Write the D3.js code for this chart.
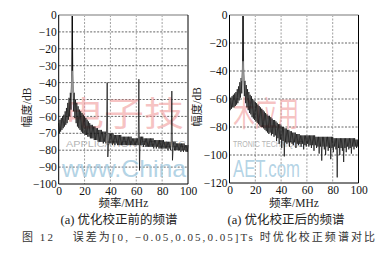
<!DOCTYPE html>
<html><head><meta charset="utf-8">
<script src="https://cdn.jsdelivr.net/npm/d3@7"></script>
<style>
body{margin:0;background:#fff;}
svg{display:block;}
</style></head>
<body>
<svg id="c" width="381" height="254"></svg>
<script>
// ---------- data ----------
const freqStep = 0.5; // MHz between samples
const xTicks = [0, 20, 40, 60, 80, 100];
const yTicksLeft = [0, -10, -20, -30, -40, -50, -60, -70, -80, -90, -100];
const yTicksRight = [0, -20, -40, -60, -80, -100, -120];

// before optimisation (black), dB, sampled every 0.5 MHz from 0 to 100 MHz
const ampBefore = [
-64,-70,-62,-69,-61,-68,-60,-67,-59,-66,-57,-65,-55,-64,-52,-62,-49,-60,-46,-56,
-40,0,-41,-57,-46,-61,-50,-64,-52,-66,-54,-67,-56,-68,-57,-69,-58,-70,-59,-70,
-60,-71,-61,-71,-62,-72,-63,-72,-64,-73,-65,-73,-65,-73,-66,-74,-66,-74,-67,-74,
-67,-75,-68,-75,-68,-75,-68,-75,-69,-76,-69,-75,-69,-76,-70,-40,-84,-76,-70,-76,
-70,-76,-70,-77,-70,-76,-71,-77,-71,-76,-71,-77,-71,-77,-71,-77,-71,-77,-72,-77,
-72,-77,-72,-77,-72,-77,-72,-77,-72,-77,-72,-77,-72,-77,-73,-77,-73,-77,-73,-77,
-73,-77,-73,-77,-38,-92,-72,-77,-72,-77,-72,-78,-73,-77,-73,-78,-73,-78,-73,-78,
-73,-78,-73,-78,-73,-78,-73,-79,-74,-78,-74,-79,-74,-78,-74,-79,-74,-79,-74,-79,
-74,-79,-74,-79,-75,-79,-75,-79,-75,-80,-75,-79,-75,-80,-75,-45,-86,-79,-75,-80,
-75,-80,-76,-80,-76,-80,-76,-80,-76,-81,-76,-80,-76,-81,-76,-80,-77,-81,-77,-81,
-77
];
// after optimisation (black), dB, sampled every 0.5 MHz from 0 to 100 MHz
const ampAfter = [
-60,-68,-59,-67,-58,-66,-57,-66,-56,-65,-55,-64,-53,-63,-51,-61,-48,-59,-45,-56,
-40,0,-42,-58,-47,-63,-50,-66,-53,-68,-55,-70,-57,-71,-58,-73,-60,-74,-61,-75,
-62,-76,-63,-77,-64,-78,-65,-79,-66,-80,-67,-80,-68,-81,-69,-82,-70,-83,-71,-84,
-72,-85,-72,-84,-73,-86,-74,-85,-75,-87,-75,-86,-76,-90,-77,-88,-78,-92,-78,-89,
-79,-95,-80,-90,-80,-101,-81,-91,-81,-92,-82,-91,-82,-94,-83,-91,-83,-92,-84,-93,
-84,-91,-84,-95,-85,-92,-85,-93,-85,-92,-86,-94,-86,-92,-86,-96,-86,-93,-86,-94,
-86,-92,-86,-94,-86,-93,-86,-95,-86,-93,-86,-97,-86,-93,-87,-95,-87,-94,-87,-99,
-87,-94,-87,-104,-87,-94,-87,-96,-87,-100,-87,-94,-87,-97,-87,-95,-87,-103,-87,-95,
-87,-98,-88,-94,-88,-96,-88,-116,-88,-95,-88,-100,-88,-95,-88,-97,-88,-105,-88,-95,
-88,-98,-88,-94,-88,-96,-88,-95,-88,-99,-88,-94,-88,-96,-88,-94,-89,-95,-89,-94,
-89
];
// grey reference trace around the carrier
const greyFreq = [9.4, 10.5, 11.6];
const greyBefore = [-46, -33, -46];
const greyAfter = [-47, -33, -47];

const SERIF = '"Liberation Serif","Noto Sans CJK SC",serif';

// ---------- drawing ----------
const svg = d3.select("#c");

function panel(cfg) {
  const x = d3.scaleLinear().domain([0, 100]).range([cfg.x0, cfg.x1]);
  const y = d3.scaleLinear().domain([cfg.yMin, 0]).range([cfg.yB, cfg.yT]);
  const g = svg.append("g");
  g.append("g").selectAll("line").data(cfg.yTicks.filter(d => d !== 0 && d !== cfg.yMin)).join("line")
    .attr("x1", cfg.x0).attr("x2", cfg.x1).attr("y1", d => y(d)).attr("y2", d => y(d))
    .attr("stroke", "#222").attr("stroke-width", 0.7).attr("stroke-dasharray", "2,1.5");
  g.append("g").selectAll("line").data(xTicks.filter(d => d !== 0 && d !== 100)).join("line")
    .attr("x1", d => x(d)).attr("x2", d => x(d)).attr("y1", cfg.yT).attr("y2", cfg.yB)
    .attr("stroke", "#777").attr("stroke-width", 0.7).attr("stroke-dasharray", "2,1.5");
  cfg.xs = x; cfg.ys = y;
  return cfg;
}

function finishPanel(cfg) {
  const g = svg.append("g");
  const x = cfg.xs, y = cfg.ys;
  const line = d3.line().x(d => x(d[0])).y(d => y(d[1]));
  const pts = cfg.amp.map((v, i) => [i * freqStep, v]);
  g.append("path").attr("d", line(pts)).attr("fill", "none")
    .attr("stroke", "#111").attr("stroke-width", 0.75);
  const gp = cfg.greyFreq.map((f, i) => [f, cfg.grey[i]]);
  g.append("path").attr("d", line(gp)).attr("fill", "#9a9a9a")
    .attr("stroke", "#8a8a8a").attr("stroke-width", 0.8);
  g.append("path").attr("d", line([[10.5, -33], [10.5, 0]])).attr("stroke", "#000").attr("stroke-width", 1);

  // frame
  g.append("line").attr("x1", cfg.x0).attr("x2", cfg.x1).attr("y1", cfg.yT).attr("y2", cfg.yT)
    .attr("stroke", "#bbb").attr("stroke-width", 2);
  g.append("line").attr("x1", cfg.x0).attr("x2", cfg.x0).attr("y1", cfg.yT).attr("y2", cfg.yB)
    .attr("stroke", "#000").attr("stroke-width", 1);
  g.append("line").attr("x1", cfg.x1).attr("x2", cfg.x1).attr("y1", cfg.yT).attr("y2", cfg.yB)
    .attr("stroke", "#000").attr("stroke-width", 1);
  g.append("line").attr("x1", cfg.x0).attr("x2", cfg.x1).attr("y1", cfg.yB).attr("y2", cfg.yB)
    .attr("stroke", "#000").attr("stroke-width", 1);

  // axes
  const ay = g.append("g").attr("transform", `translate(${cfg.x0},0)`)
    .call(d3.axisLeft(y).tickValues(cfg.yTicks).tickSize(0).tickPadding(2));
  ay.select(".domain").remove();
  ay.selectAll("text").style("font-size", "11.5px").style("font-family", SERIF).attr("fill", "#111");
  const ax = g.append("g").attr("transform", `translate(0,${cfg.yB})`)
    .call(d3.axisBottom(x).tickValues(xTicks).tickSize(0).tickPadding(3));
  ax.select(".domain").remove();
  ax.selectAll("text").style("font-size", "11.5px").style("font-family", SERIF).attr("fill", "#111");

  const cx = (cfg.x0 + cfg.x1) / 2;
  g.append("text").attr("x", cx).attr("y", 207).attr("text-anchor", "middle")
    .style("font-family", SERIF).style("font-size", "11.5px").attr("fill", "#222").text("频率/MHz");
  g.append("text").attr("x", cfg.capX).attr("y", 223.5).attr("text-anchor", "middle")
    .style("font-family", SERIF).style("font-size", "12.5px").attr("fill", "#222").text(cfg.caption);
  g.append("text")
    .attr("transform", `translate(${cfg.titleX},${(cfg.yT + cfg.yB) / 2 + 8}) rotate(-90)`)
    .attr("text-anchor", "middle").style("font-family", SERIF).style("font-size", "11.5px")
    .attr("fill", "#222").text("幅度/dB");
}

const L = panel({x0: 58.7, x1: 188, yT: 15, yB: 184, yMin: -100, yTicks: yTicksLeft,
  amp: ampBefore, greyFreq: greyFreq, grey: greyBefore, caption: "(a) 优化校正前的频谱", capX: 119, titleX: 31});
const R = panel({x0: 229.5, x1: 358.5, yT: 15, yB: 183, yMin: -120, yTicks: yTicksRight,
  amp: ampAfter, greyFreq: greyFreq, grey: greyAfter, caption: "(a) 优化校正后的频谱", capX: 286, titleX: 201});

// watermark (kept inside the plot areas)
function wmText(txt, x, y, size, len, fill, op, family) {
  svg.append("text").attr("x", x).attr("y", y)
    .style("font-family", family).style("font-size", size + "px")
    .attr("fill", fill).attr("fill-opacity", op)
    .attr("textLength", len).attr("lengthAdjust", "spacingAndGlyphs").text(txt);
}
wmText("电子技", 64, 126, 34, 120, "#f09a9a", 0.6, '"Noto Sans CJK SC"');
wmText("术应用", 233, 126, 34, 66, "#f09a9a", 0.6, '"Noto Sans CJK SC"');
wmText("APPLICATION OF ELEC", 66, 147, 9, 120, "#b5b5b5", 1, '"Liberation Sans"');
wmText("TRONIC TECHNIQUE", 233, 147, 9, 70, "#b5b5b5", 1, '"Liberation Sans"');
wmText("www.China", 62, 177, 24, 124, "#9fc8de", 0.8, '"Liberation Sans"');
wmText("AET.com", 233, 177, 24, 67, "#9fc8de", 0.8, '"Liberation Sans"');

finishPanel(L);
finishPanel(R);

svg.append("text").attr("x", 22).attr("y", 240.5).style("font-family", SERIF).style("font-size", "11px")
  .attr("fill", "#333").attr("textLength", 353).attr("lengthAdjust", "spacing")
  .text("图 12　 误差为[0, −0.05,0.05,0.05]Ts 时优化校正频谱对比");
</script>
</body></html>
